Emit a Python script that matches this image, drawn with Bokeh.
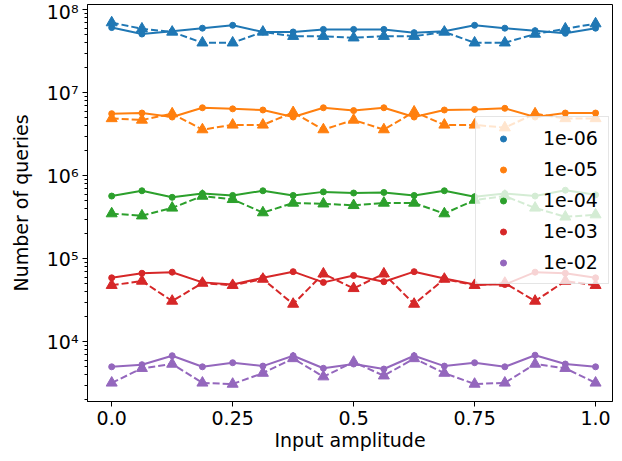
from bokeh.plotting import figure
from bokeh.models import Range1d, FixedTicker, Legend, LegendItem
from bokeh.embed import file_html
from bokeh.resources import INLINE

# ---- data ----
x = [0.0, 0.0625, 0.125, 0.1875, 0.25, 0.3125, 0.375, 0.4375, 0.5,
     0.5625, 0.625, 0.6875, 0.75, 0.8125, 0.875, 0.9375, 1.0]

labels = ["1e-06", "1e-05", "1e-04", "1e-03", "1e-02"]
colors = ["#1f77b4", "#ff7f0e", "#2ca02c", "#d62728", "#9467bd"]

solid_1e6 = [6.1e7, 5.1e7, 5.5e7, 6.0e7, 6.5e7, 5.4e7, 5.4e7, 5.8e7, 5.8e7,
             5.8e7, 5.3e7, 5.5e7, 6.5e7, 6.0e7, 5.6e7, 5.2e7, 6.0e7]
dash_1e6 = [7.0e7, 5.9e7, 5.4e7, 4.0e7, 4.0e7, 5.4e7, 4.8e7, 4.8e7, 4.6e7,
            4.8e7, 4.8e7, 5.4e7, 4.0e7, 4.0e7, 5.1e7, 5.9e7, 6.8e7]
solid_1e5 = [5.6e6, 5.7e6, 5.1e6, 6.6e6, 6.4e6, 6.2e6, 5.1e6, 6.6e6, 6.1e6,
             6.6e6, 5.1e6, 6.2e6, 6.3e6, 6.5e6, 5.1e6, 5.7e6, 5.7e6]
dash_1e5 = [4.9e6, 4.7e6, 5.6e6, 3.6e6, 4.1e6, 4.1e6, 5.8e6, 3.6e6, 4.7e6,
            3.6e6, 5.9e6, 4.1e6, 4.1e6, 3.8e6, 5.6e6, 4.9e6, 4.9e6]
solid_1e4 = [5.7e5, 6.6e5, 5.5e5, 6.1e5, 5.8e5, 6.6e5, 5.8e5, 6.4e5, 6.2e5,
             6.3e5, 5.8e5, 6.6e5, 5.6e5, 6.1e5, 5.7e5, 6.7e5, 5.9e5]
dash_1e4 = [3.5e5, 3.3e5, 4.1e5, 5.7e5, 5.2e5, 3.6e5, 4.7e5, 4.6e5, 4.4e5,
            4.7e5, 4.7e5, 3.5e5, 5.1e5, 5.7e5, 4.1e5, 3.2e5, 3.4e5]
solid_1e3 = [5.9e4, 6.7e4, 6.9e4, 5.2e4, 4.9e4, 5.9e4, 7.0e4, 5.2e4, 6.3e4,
             5.3e4, 7.0e4, 5.8e4, 4.9e4, 4.9e4, 6.9e4, 6.7e4, 5.9e4]
dash_1e3 = [4.8e4, 5.4e4, 3.1e4, 5.1e4, 4.8e4, 5.7e4, 2.85e4, 6.6e4, 4.4e4,
            6.6e4, 2.85e4, 5.7e4, 4.8e4, 5.1e4, 3.1e4, 5.4e4, 4.8e4]
solid_1e2 = [5.0e3, 5.3e3, 6.8e3, 5.0e3, 5.6e3, 5.1e3, 6.8e3, 4.8e3, 5.4e3,
             4.7e3, 6.8e3, 5.1e3, 5.6e3, 5.0e3, 6.9e3, 5.4e3, 5.0e3]
dash_1e2 = [3.2e3, 4.8e3, 5.4e3, 3.2e3, 3.1e3, 4.2e3, 6.3e3, 3.8e3, 5.7e3,
            3.9e3, 6.3e3, 4.2e3, 3.1e3, 3.2e3, 5.4e3, 4.8e3, 3.2e3]

solid_series = [solid_1e6, solid_1e5, solid_1e4, solid_1e3, solid_1e2]
dash_series = [dash_1e6, dash_1e5, dash_1e4, dash_1e3, dash_1e2]

x_ticks = [0.0, 0.25, 0.5, 0.75, 1.0]
x_tick_labels = ["0.0", "0.25", "0.5", "0.75", "1.0"]
y_ticks = [1e4, 1e5, 1e6, 1e7, 1e8]
y_tick_labels = ["10\u2074", "10\u2075", "10\u2076", "10\u2077", "10\u2078"]
y_minor = [m * d for d in [1e3, 1e4, 1e5, 1e6, 1e7, 1e8] for m in range(2, 10)]

FONT = "DejaVu Sans"

p = figure(width=614, height=453, y_axis_type="log",
           x_range=Range1d(-0.05, 1.035), y_range=Range1d(1.91e3, 1.157e8),
           output_backend="svg", toolbar_location=None,
           min_border_left=87, min_border_right=2, min_border_top=4,
           min_border_bottom=10)
p.grid.visible = False
p.outline_line_color = "black"
p.outline_line_width = 1
p.background_fill_color = "white"
p.border_fill_color = "white"

items = []
for lab, col, ys, yd in zip(labels, colors, solid_series, dash_series):
    p.line(x, ys, line_color=col, line_width=2)
    r = p.scatter(x, ys, marker="circle", size=6, fill_color=col, line_color=col)
    p.line(x, yd, line_color=col, line_width=2, line_dash="7 3")
    p.scatter(x, yd, marker="triangle", size=11, fill_color=col, line_color=col)
    items.append(LegendItem(label=lab, renderers=[r]))

# axes
for ax in (p.xaxis, p.yaxis):
    ax.axis_line_color = "black"
    ax.major_tick_line_color = "black"
    ax.minor_tick_line_color = "black"
    ax.major_tick_out = 5
    ax.major_tick_in = 0
    ax.minor_tick_out = 3
    ax.minor_tick_in = 0
    ax.major_label_text_font = FONT
    ax.major_label_text_font_size = "19px"
    ax.major_label_text_color = "black"
    ax.axis_label_text_font = FONT
    ax.axis_label_text_font_size = "19px"
    ax.axis_label_text_font_style = "normal"
    ax.axis_label_text_color = "black"

p.xaxis.ticker = FixedTicker(ticks=x_ticks)
p.xaxis.major_label_overrides = dict(zip(x_ticks, x_tick_labels))
p.xaxis.minor_tick_line_color = None
p.xaxis.axis_label = "Input amplitude"
p.xaxis.major_label_standoff = 4
p.xaxis.axis_label_standoff = 1

p.yaxis.ticker = FixedTicker(ticks=y_ticks, minor_ticks=y_minor)
p.yaxis.major_label_overrides = dict(zip(y_ticks, y_tick_labels))
p.yaxis.axis_label = "Number of queries"
p.yaxis.major_label_standoff = 4
p.yaxis.axis_label_standoff = 12

legend = Legend(items=items, location=(388, 117),
                label_text_font=FONT, label_text_font_size="19px",
                label_text_color="black",
                glyph_width=34, glyph_height=15, label_height=20,
                label_standoff=23, spacing=9, padding=10, margin=0,
                border_line_color="#cccccc", border_line_width=1,
                background_fill_color="white", background_fill_alpha=0.8)
p.add_layout(legend, "center")

open("out.html", "w").write(file_html(p, INLINE))
